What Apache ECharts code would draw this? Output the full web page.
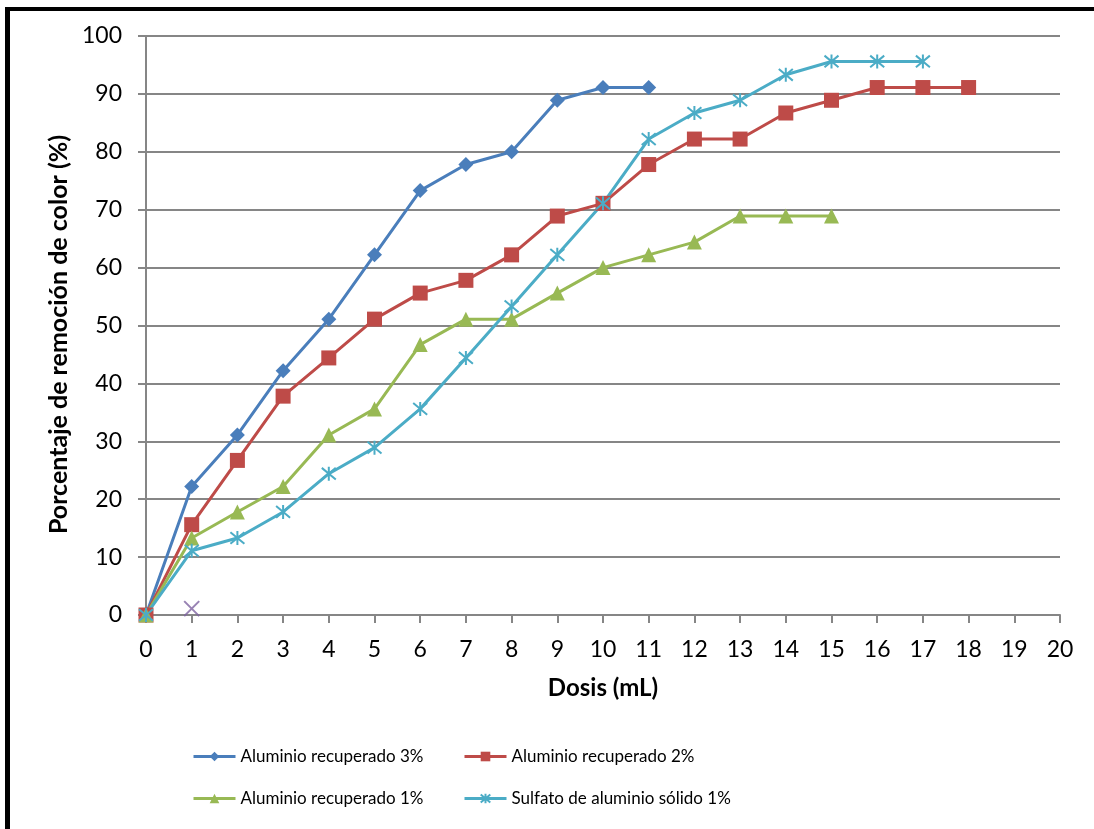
<!DOCTYPE html>
<html>
<head>
<meta charset="utf-8">
<script src="https://cdn.jsdelivr.net/npm/echarts@6/dist/echarts.min.js"></script>
<style>
  html, body { margin: 0; padding: 0; background: #fff; }
  #chart { width: 1094px; height: 829px; }
</style>
</head>
<body>
<div id="chart"></div>
<script>
// Dosis (mL) for each measurement step
const dosis = [0, 1, 2, 3, 4, 5, 6, 7, 8, 9, 10, 11, 12, 13, 14, 15, 16, 17, 18];

// Porcentaje de remoción de color (%) per coagulant
const recuperado3 = [0, 22.2, 31.1, 42.2, 51.1, 62.2, 73.3, 77.8, 80.0, 88.9, 91.1, 91.1];
const recuperado2 = [0, 15.6, 26.7, 37.8, 44.4, 51.1, 55.6, 57.8, 62.2, 68.9, 71.1, 77.8, 82.2, 82.2, 86.7, 88.9, 91.1, 91.1, 91.1];
const recuperado1 = [0, 13.3, 17.8, 22.2, 31.1, 35.6, 46.7, 51.1, 51.1, 55.6, 60.0, 62.2, 64.4, 68.9, 68.9, 68.9];
const sulfatoSolido1 = [0, 11.1, 13.3, 17.8, 24.4, 28.9, 35.6, 44.4, 53.3, 62.2, 71.1, 82.2, 86.7, 88.9, 93.3, 95.6, 95.6, 95.6];
// Stray point plotted without a legend entry
const extraPoint = [[1, 1.1]];

const seriesNames = [
  'Aluminio recuperado 3%',
  'Aluminio recuperado 2%',
  'Aluminio recuperado 1%',
  'Sulfato de aluminio sólido 1%'
];
const yTicks = [0, 10, 20, 30, 40, 50, 60, 70, 80, 90, 100];
const xTicks = [0, 20];

const FONT = 'Lato';
const asterisk = 'path://M0,0L10,10M10,0L0,10M5,-1L5,11';
const cross = 'path://M0,0L10,10M10,0L0,10';

function pairs(values) {
  return values.map((v, i) => [dosis[i], v]);
}

function lineSeries(name, values, color, symbol, size, extraStyle) {
  return {
    name: name,
    type: 'line',
    data: pairs(values),
    symbol: symbol,
    symbolSize: size,
    lineStyle: { color: color, width: 3 },
    itemStyle: Object.assign({ color: color }, extraStyle || {}),
    emphasis: { disabled: true }
  };
}

function legendAt(name, left, top) {
  return {
    data: [name],
    left: left,
    top: top,
    padding: 0,
    itemWidth: 42,
    itemHeight: 12,
    itemGap: 4,
    lineStyle: { width: 3 },
    textStyle: { fontFamily: FONT, fontSize: 17, color: '#000' },
    selectedMode: false
  };
}

const chart = echarts.init(document.getElementById('chart'), null, { renderer: 'canvas' });

chart.setOption({
  animation: false,
  backgroundColor: '#fff',
  textStyle: { fontFamily: FONT },
  grid: { left: 146, right: 34, top: 36, bottom: 214 },
  xAxis: {
    type: 'value',
    min: xTicks[0],
    max: xTicks[1],
    interval: 1,
    name: 'Dosis (mL)',
    nameLocation: 'middle',
    nameGap: 61,
    nameTextStyle: { fontFamily: FONT, fontSize: 24, fontWeight: 'bold', color: '#000' },
    axisLine: { show: true, lineStyle: { color: '#868686', width: 2 } },
    axisTick: { show: true, inside: false, length: 8, lineStyle: { color: '#868686', width: 2 } },
    axisLabel: { fontFamily: FONT, fontSize: 23, color: '#000', margin: 23 },
    splitLine: { show: false }
  },
  yAxis: {
    type: 'value',
    min: yTicks[0],
    max: yTicks[yTicks.length - 1],
    interval: 10,
    name: 'Porcentaje de remoción de color (%)',
    nameLocation: 'middle',
    nameGap: 72,
    nameTextStyle: { fontFamily: FONT, fontSize: 25, fontWeight: 'bold', color: '#000', padding: [0, 18, 0, 0] },
    axisLine: { show: true, lineStyle: { color: '#868686', width: 2 } },
    axisTick: { show: true, inside: false, length: 8, lineStyle: { color: '#868686', width: 2 } },
    axisLabel: { fontFamily: FONT, fontSize: 23, color: '#000', margin: 24 },
    splitLine: { show: true, lineStyle: { color: '#868686', width: 2 } }
  },
  legend: [
    legendAt(seriesNames[0], 192, 748),
    legendAt(seriesNames[1], 463, 748),
    legendAt(seriesNames[2], 192, 790),
    legendAt(seriesNames[3], 463, 790)
  ],
  series: [
    lineSeries(seriesNames[0], recuperado3, '#4A7EBB', 'diamond', 15),
    lineSeries(seriesNames[1], recuperado2, '#BE4B48', 'rect', 15),
    lineSeries(seriesNames[2], recuperado1, '#98B954', 'triangle', 15),
    lineSeries(seriesNames[3], sulfatoSolido1, '#4BACC6', asterisk, 14,
      { borderColor: '#4BACC6', borderWidth: 2 }),
    {
      name: 'extra',
      type: 'scatter',
      data: extraPoint,
      symbol: cross,
      symbolSize: 15,
      itemStyle: { color: '#7E63A0', borderColor: '#7E63A0', borderWidth: 2 },
      emphasis: { disabled: true }
    }
  ],
  graphic: [
    { type: 'rect', shape: { x: 5, y: 7, width: 5, height: 822 }, style: { fill: '#000' }, silent: true },
    { type: 'rect', shape: { x: 5, y: 7, width: 1089, height: 4 }, style: { fill: '#000' }, silent: true }
  ]
});
</script>
</body>
</html>
